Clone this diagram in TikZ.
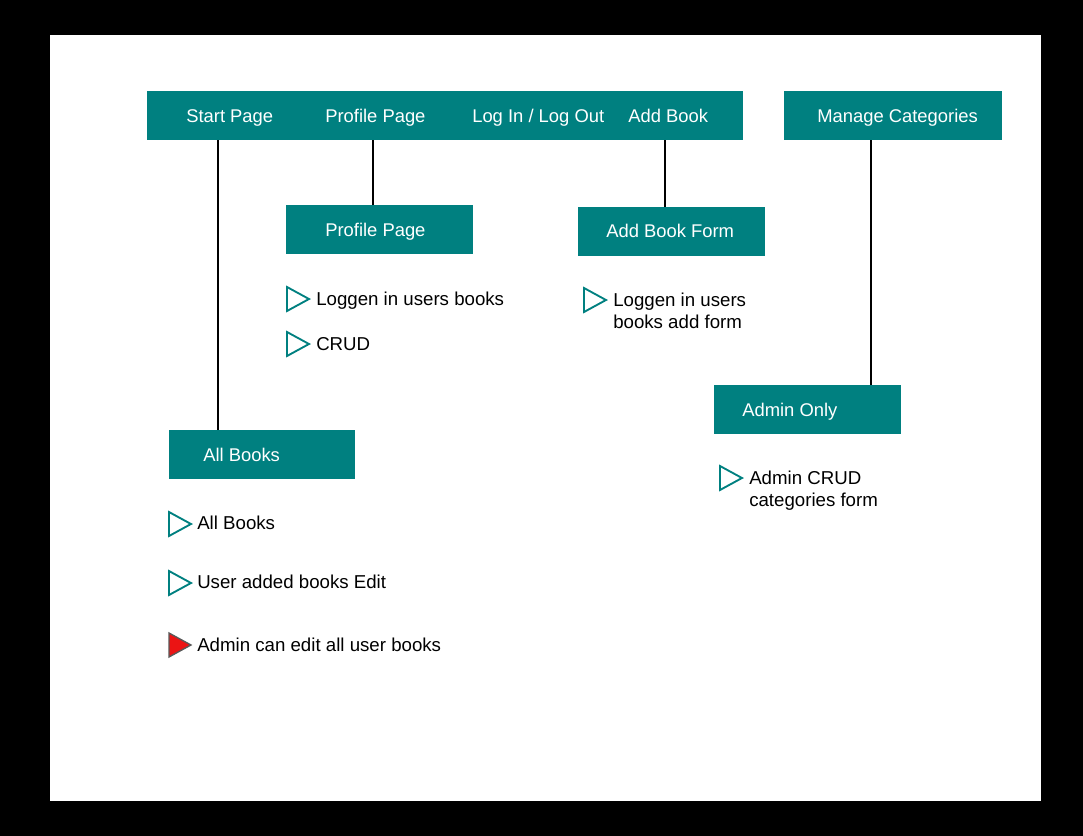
\documentclass[tikz,border=0pt]{standalone}
\usepackage{fontspec}
\setmainfont{Liberation Sans}
\usetikzlibrary{fit}
\definecolor{tealbox}{RGB}{0,128,128}
\definecolor{redtri}{RGB}{235,20,20}
\newcommand{\mytri}[3][]{\draw[tri,#1] (#2,#3) -- ++(0,24) -- ++(22,-12) -- cycle;}
\begin{document}
\begin{tikzpicture}[x=0.75pt,y=-0.75pt,
  box/.style={fill=tealbox, draw=none, inner sep=0pt},
  lbl/.style={text=white, font=\fontsize{13.8}{16}\selectfont, anchor=mid west, inner sep=0pt},
  item/.style={text=black, font=\fontsize{14}{16.5}\selectfont, anchor=mid west, align=left, inner sep=0pt},
  tri/.style={draw=tealbox, line width=1.4pt, fill=white, line join=miter},
  conn/.style={draw=black, line width=1.2pt}]
\fill[black] (0,0) rectangle (1083,836);
\fill[white] (50,35) rectangle (1041,801);
\useasboundingbox (0,0) rectangle (1083,836);

% boxes
\node[box, fit={(147,91) (743,140)}] (bar) {};
\node[box, fit={(784,91) (1002,140)}] (mc) {};
\node[box, fit={(286,205) (473,254)}] (pp) {};
\node[box, fit={(578,207) (765,256)}] (abf) {};
\node[box, fit={(714,385) (901,434)}] (ao) {};
\node[box, fit={(169,430) (355,479)}] (ab) {};

% box labels
\node[lbl] (t1) at (186,119) {Start Page};
\node[lbl] (t2) at (325,119) {Profile Page};
\node[lbl] (t3) at (472,119) {Log In / Log Out};
\node[lbl] (t4) at (628,119) {Add Book};
\node[lbl] (t5) at (817,119) {Manage Categories};
\node[lbl] (t6) at (325,233) {Profile Page};
\node[lbl] (t7) at (606,234) {Add Book Form};
\node[lbl] (t8) at (742,413) {Admin Only};
\node[lbl] (t9) at (203,458) {All Books};

% connectors
\draw[conn] (bar.south -| 218,0) -- (ab.north -| 218,0);
\draw[conn] (bar.south -| 373,0) -- (pp.north -| 373,0);
\draw[conn] (bar.south -| 665,0) -- (abf.north -| 665,0);
\draw[conn] (mc.south -| 871,0) -- (ao.north -| 871,0);

% bullets
\mytri{287}{287}
\node[item] (i1) at (316,302) {Loggen in users books};
\mytri{287}{332}
\node[item] (i2) at (316,347) {CRUD};
\mytri{584}{288}
\node[item] (i3) at (613,325) {Loggen in users\\books add form};
\mytri{720}{466}
\node[item] (i4) at (749,503) {Admin CRUD\\categories form};
\mytri{169}{512}
\node[item] (i5) at (197,526) {All Books};
\mytri{169}{571}
\node[item] (i6) at (197,585) {User added books Edit};
\mytri[fill=redtri, draw=black!65, line width=1pt]{169}{633}
\node[item] (i7) at (197,648) {Admin can edit all user books};
\end{tikzpicture}
\end{document}
